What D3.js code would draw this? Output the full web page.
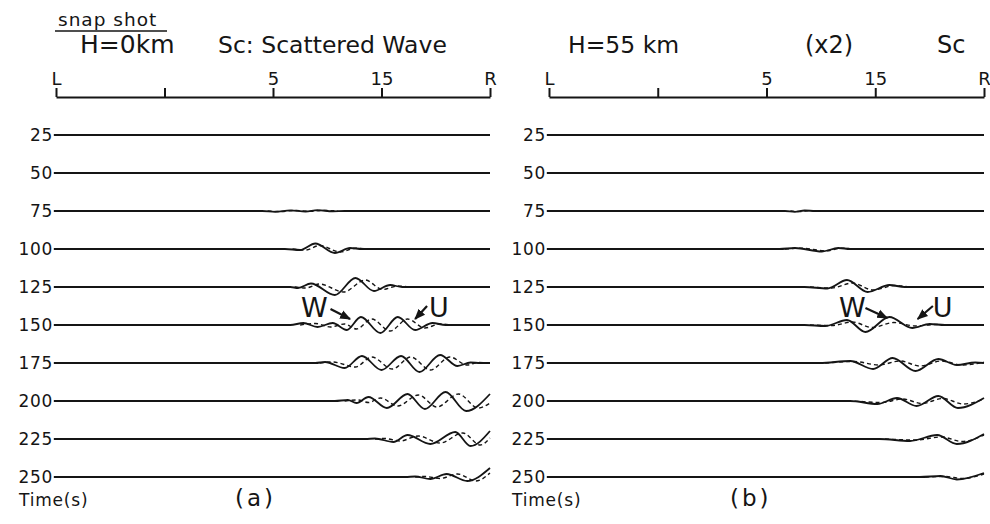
<!DOCTYPE html>
<html>
<head>
<meta charset="utf-8">
<script src="https://cdn.jsdelivr.net/npm/d3@7"></script>
<style>
  html, body { margin: 0; background: #fff; }
  svg { display: block; }
  text { font-family: "DejaVu Sans", "Liberation Sans", sans-serif; fill: #151515; }
</style>
</head>
<body>
<svg id="chart" width="990" height="524"></svg>
<script>
// Snapshot times (s), one trace per time
const times = [25, 50, 75, 100, 125, 150, 175, 200, 225, 250];

// Horizontal distance along the profile L..R and its tick labels
const distTicks = [0, 100, 200, 300, 400];
const distTickLabels = ["L", "", "5", "15", "R"];

// Panel (a) H = 0 km : [distance, displacement] samples of the scattered wave
const solidA = [
  [],
  [],
  [[190,0],[202,-0.08],[216,0.06],[230,-0.05],[241,0.08],[255,-0.03],[266,0]],
  [[211,0],[225,-0.1],[239,0.55],[257,-0.4],[271,0.1],[282,0]],
  [[216,0],[223,-0.1],[235,0.35],[257,-0.8],[276,0.9],[293,-0.4],[308,0.2],[319,0]],
  [[216,0],[228,0.2],[241,-0.2],[255,0.2],[268,-0.5],[281,0.8],[299,-0.8],[315,0.8],[331,-0.5],[347,0.2],[359,0]],
  [[239,0],[248,0.1],[266,-0.5],[282,0.7],[300,-0.7],[318,0.7],[335,-0.9],[354,0.8],[370,-0.3],[382,0.05],[391,0]],
  [[257,0],[269,0.1],[277,-0.2],[288,0.4],[305,-0.7],[324,0.7],[340,-0.8],[359,0.9],[378,-1.0],[400,0.7]],
  [[285,0],[294,0.05],[311,-0.3],[324,0.4],[345,-0.5],[368,0.7],[382,-0.7],[400,0.8]],
  [[322,0],[331,0.05],[345,-0.2],[360,0.3],[379,-0.4],[400,0.9]]
];
const dashedA = [
  [],
  [],
  [[195,0],[207,-0.05],[220,0.05],[234,-0.04],[246,0.06],[260,0]],
  [[218,0],[230,-0.1],[243,0.35],[262,-0.3],[276,0.08],[288,0]],
  [[220,0],[230,-0.1],[243,0.3],[265,-0.5],[285,0.7],[301,-0.25],[315,0.1],[326,0]],
  [[225,0],[239,0.15],[253,-0.2],[266,0.1],[277,-0.4],[291,0.6],[308,-0.6],[324,0.6],[340,-0.3],[354,0.1],[365,0]],
  [[243,0],[255,0.1],[276,-0.4],[291,0.6],[310,-0.6],[327,0.6],[345,-0.7],[363,0.6],[379,-0.2],[389,0.05],[398,0]],
  [[266,0],[278,0.1],[288,-0.15],[299,0.3],[315,-0.5],[334,0.6],[351,-0.6],[371,0.7],[389,-0.7],[400,-0.2]],
  [[294,0],[303,0.05],[317,-0.2],[334,0.3],[354,-0.4],[375,0.6],[391,-0.6],[400,0.1]],
  [[331,0],[340,0.05],[354,-0.15],[370,0.3],[387,-0.4],[400,0.4]]
];

// Panel (b) H = 55 km : same units, plotted with a gain of 2
const solidB = [
  [],
  [],
  [[217,0],[226,-0.04],[235,0.025],[245,0]],
  [[212,0],[226,0.05],[251,-0.125],[266,0.05],[277,0]],
  [[235,0],[256,-0.075],[274,0.35],[293,-0.25],[313,0.1],[327,0]],
  [[235,0],[254,-0.05],[274,0.25],[291,-0.35],[313,0.4],[334,-0.15],[350,0.05],[364,0]],
  [[249,0],[277,0.1],[298,-0.3],[316,0.25],[337,-0.4],[358,0.2],[375,-0.1],[392,0.025],[400,0]],
  [[277,0],[302,-0.15],[320,0.15],[338,-0.25],[358,0.25],[376,-0.35],[400,0.15]],
  [[304,0],[332,-0.1],[357,0.2],[375,-0.25],[400,0.25]],
  [[341,0],[360,0.05],[375,-0.125],[400,0.2]]
];
const dashedB = [
  [],
  [],
  [[222,0],[231,-0.03],[240,0.02],[250,0]],
  [[217,0],[231,0.04],[255,-0.09],[269,0.04],[281,0]],
  [[240,0],[260,-0.05],[279,0.2],[298,-0.15],[318,0.075],[332,0]],
  [[240,0],[260,-0.025],[279,0.15],[297,-0.125],[317,0.125],[337,-0.05],[355,0.025],[369,0]],
  [[254,0],[281,0.075],[303,-0.1],[323,0.1],[341,-0.15],[361,0.1],[380,-0.1],[400,0.05]],
  [[281,0],[306,-0.075],[325,0.1],[343,-0.125],[362,0.125],[381,-0.15],[400,0.1]],
  [[309,0],[337,-0.05],[361,0.1],[380,-0.125],[400,0.2]],
  [[346,0],[364,0.025],[380,-0.075],[400,0.15]]
];

const svg = d3.select("#chart");
const ink = "#151515";

svg.append("defs").append("marker")
  .attr("id", "arrowhead")
  .attr("viewBox", "0 0 10 10")
  .attr("refX", 9).attr("refY", 5)
  .attr("markerWidth", 5).attr("markerHeight", 5)
  .attr("orient", "auto")
  .append("path").attr("d", "M0,1 L10,5 L0,9 Z").attr("fill", ink);

const yRow = d3.scaleLinear().domain([25, 250]).range([135, 477]);

function drawPanel(opt) {
  const g = svg.append("g");
  const x = d3.scaleLinear().domain([0, 400]).range(opt.xRange);
  const amp = d3.scaleLinear().domain([-1, 1]).range([10 * opt.gain, -10 * opt.gain]);

  // distance axis along the top
  const axis = d3.axisTop(x)
    .tickValues(distTicks)
    .tickFormat((d, i) => distTickLabels[i])
    .tickSize(9).tickSizeOuter(0).tickPadding(3);
  const ax = g.append("g").attr("transform", "translate(0,97)").call(axis);
  ax.select(".domain").attr("stroke", ink).attr("stroke-width", 2);
  ax.selectAll(".tick line").attr("stroke", ink).attr("stroke-width", 2);
  ax.selectAll(".tick text")
    .attr("fill", ink)
    .style("font-family", '"DejaVu Sans", sans-serif')
    .style("font-size", "18px");

  const line = row => d3.line()
    .x(d => x(d[0]))
    .y(d => yRow(row) + amp(d[1]))
    .curve(d3.curveMonotoneX);

  times.forEach((t, i) => {
    const s = opt.solid[i];
    let pts = [[-2, 0]];
    if (s.length) {
      pts = pts.concat(s);
      if (s[s.length - 1][0] < 400) pts.push([400, 0]);
    } else {
      pts.push([400, 0]);
    }
    g.append("path").datum(pts)
      .attr("d", line(t))
      .attr("fill", "none").attr("stroke", ink).attr("stroke-width", 1.8);

    const dsh = opt.dashed[i];
    if (dsh.length) {
      g.append("path").datum(dsh)
        .attr("d", line(t))
        .attr("fill", "none").attr("stroke", ink)
        .attr("stroke-width", 1.4).attr("stroke-dasharray", "4,3");
    }

    g.append("text")
      .attr("x", x(-2) - 1)
      .attr("y", yRow(t))
      .attr("dy", "0.36em")
      .attr("text-anchor", "end")
      .style("font-size", "17px")
      .style("letter-spacing", "0.6px")
      .text(t);
  });

  // phase labels W and U on the 150 s trace
  const y150 = yRow(150);
  opt.marks.forEach(m => {
    g.append("text")
      .attr("x", x(m.at)).attr("y", y150 - 8)
      .attr("text-anchor", "middle")
      .style("font-size", "27px")
      .text(m.label);
    g.append("line")
      .attr("x1", x(m.from[0])).attr("y1", y150 + m.from[1])
      .attr("x2", x(m.to[0])).attr("y2", y150 + m.to[1])
      .attr("stroke", ink).attr("stroke-width", 2.2)
      .attr("marker-end", "url(#arrowhead)");
  });

  g.append("text")
    .attr("x", opt.xRange[0] - 37).attr("y", 506)
    .style("font-size", "17px").style("letter-spacing", "0.8px")
    .text("Time(s)");
  g.append("text")
    .attr("x", opt.tagX).attr("y", 506)
    .style("font-size", "23px").style("letter-spacing", "3px")
    .text(opt.tag);

  return x;
}

drawPanel({
  xRange: [56, 490], gain: 1, solid: solidA, dashed: dashedA, tag: "(a)", tagX: 235,
  marks: [
    { label: "W", at: 238, from: [253, -16], to: [271, -6] },
    { label: "U", at: 353, from: [342, -19], to: [331, -6] }
  ]
});
drawPanel({
  xRange: [549, 984], gain: 2, solid: solidB, dashed: dashedB, tag: "(b)", tagX: 730,
  marks: [
    { label: "W", at: 279, from: [291, -17], to: [311, -7] },
    { label: "U", at: 362, from: [353, -19], to: [339, -6] }
  ]
});

// headings
svg.append("text").attr("x", 58).attr("y", 26)
  .style("font-size", "18.5px").style("letter-spacing", "1px").text("snap shot");
svg.append("line").attr("x1", 55).attr("x2", 167).attr("y1", 31).attr("y2", 31)
  .attr("stroke", ink).attr("stroke-width", 1.5);
svg.append("text").attr("x", 80).attr("y", 53)
  .style("font-size", "25px").text("H=0km");
svg.append("text").attr("x", 218).attr("y", 53)
  .style("font-size", "23.5px").text("Sc: Scattered Wave");
svg.append("text").attr("x", 568).attr("y", 53)
  .style("font-size", "23.5px").text("H=55 km");
svg.append("text").attr("x", 805).attr("y", 53)
  .style("font-size", "24px").text("(x2)");
svg.append("text").attr("x", 937).attr("y", 53)
  .style("font-size", "24px").text("Sc");
</script>
</body>
</html>
